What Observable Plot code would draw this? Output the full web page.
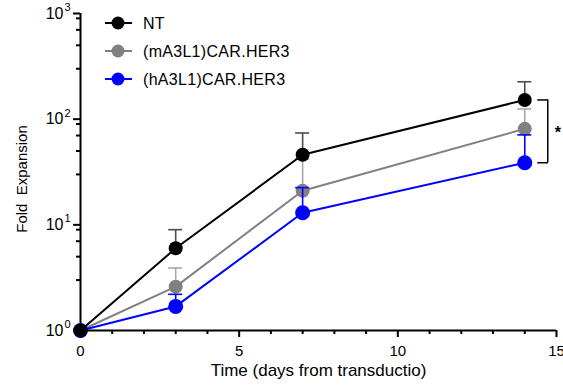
<!DOCTYPE html>
<html>
<head>
<meta charset="utf-8">
<script src="https://cdn.jsdelivr.net/npm/d3@7"></script>
<script src="https://cdn.jsdelivr.net/npm/@observablehq/plot@0.6"></script>
<style>
  body { margin: 0; background: #fff; }
  #chart svg { font-family: "Liberation Sans", Arial, sans-serif; background: #fff; }
</style>
</head>
<body>
<div id="chart"></div>
<script>
// Sampling days and group labels
const days = [0, 3, 7, 14];
const seriesNames = ["NT", "(mA3L1)CAR.HER3", "(hA3L1)CAR.HER3"];
const seriesColors = ["#000000", "#808080", "#0000ff"];
const errorColors = ["#4d4d4d", "#a8a8a8", "#0000ff"];

// Fold expansion: mean and upper end of the error bar (mean + SD)
const ntMean = [1, 6.0, 46, 152];
const ntUpper = [1, 9.0, 74, 226];
const mA3L1Mean = [1, 2.6, 21, 81];
const mA3L1Upper = [1, 3.9, 42, 125];
const hA3L1Mean = [1, 1.69, 13.0, 38.7];
const hA3L1Upper = [1, 2.2, 22.5, 71];

// Axis ticks
const decadeTicks = [1, 10, 100, 1000];
const minorYTicks = [3, 5, 7, 9, 30, 50, 70, 90, 300, 500, 700, 900];
const majorDayTicks = [0, 5, 10, 15];
const minorDayTicks = [1, 2, 3, 4, 6, 7, 8, 9, 11, 12, 13, 14];

const xTitle = "Time (days from transductio)";
const yTitle = "Fold\u00a0\u00a0Expansion";
const significance = "*";

const means = [ntMean, mA3L1Mean, hA3L1Mean];
const uppers = [ntUpper, mA3L1Upper, hA3L1Upper];

function rowsFor(i) {
  return days.map((day, j) => ({ series: seriesNames[i], day, mean: means[i][j], upper: uppers[i][j] }));
}

// gray first, then blue, then black on top
const drawOrder = [1, 2, 0];
const seriesMarks = drawOrder.flatMap(i => {
  const rows = rowsFor(i);
  const bars = rows.filter(d => d.upper > d.mean);
  return [
    Plot.ruleX(bars, { x: "day", y1: "mean", y2: "upper", stroke: errorColors[i], strokeWidth: 1.6 }),
    Plot.ruleY(bars, { y: "upper", x1: "day", x2: "day", insetLeft: -7, insetRight: -7, stroke: errorColors[i], strokeWidth: 1.6 }),
    Plot.line(rows, { x: "day", y: "mean", stroke: seriesColors[i], strokeWidth: 2 }),
    Plot.dot(rows, { x: "day", y: "mean", r: i === 2 ? 7.5 : 7, fill: seriesColors[i], stroke: "none" })
  ];
});

// significance bracket between NT and (hA3L1) on the last day
const lastDay = days[days.length - 1];
const lastIdx = days.length - 1;
const bracketTop = ntMean[lastIdx];
const bracketBottom = hA3L1Mean[lastIdx];

const chart = Plot.plot({
  width: 563,
  height: 385,
  marginLeft: 80,
  marginRight: 7,
  marginTop: 13,
  marginBottom: 55,
  style: { fontFamily: '"Liberation Sans", Arial, sans-serif', color: "#000", background: "#fff" },
  x: { domain: [0, 15] },
  y: { type: "log", domain: [1, 1000] },
  marks: [
    Plot.axisX(majorDayTicks, { tickSize: 7, tickPadding: 8, strokeWidth: 2, fontSize: 15, label: null, tickFormat: d => String(d) }),
    Plot.axisX(minorDayTicks, { tickSize: 4, strokeWidth: 2, label: null, tickFormat: () => "" }),
    Plot.axisY(decadeTicks, { tickSize: 7, strokeWidth: 2, label: null, tickFormat: () => "" }),
    Plot.axisY(minorYTicks, { tickSize: 4, strokeWidth: 2, label: null, tickFormat: () => "" }),
    Plot.ruleX([0], { y1: 1, y2: 1000, strokeWidth: 2 }),
    Plot.ruleY([1], { x1: 0, x2: 15, strokeWidth: 2 }),
    Plot.text(decadeTicks, { x: () => 0, y: d => d, text: () => "10", textAnchor: "end", dx: -17, fontSize: 16 }),
    Plot.text(decadeTicks, { x: () => 0, y: d => d, text: d => String(Math.round(Math.log10(d))), textAnchor: "start", dx: -16, dy: -6, fontSize: 11 }),
    ...seriesMarks,
    Plot.ruleX([lastDay], { y1: () => bracketTop, y2: () => bracketBottom, dx: 23, stroke: "#000", strokeWidth: 1.5 }),
    Plot.ruleY([bracketTop, bracketBottom], { y: d => d, x1: () => lastDay, x2: () => lastDay, insetLeft: 13, insetRight: -23.75, stroke: "#000", strokeWidth: 1.5 }),
    Plot.text([significance], { x: () => lastDay, y: () => Math.sqrt(bracketTop * bracketBottom), text: d => d, dx: 33, dy: 2, fontSize: 16, fontWeight: "bold" }),
    Plot.text([xTitle], { frameAnchor: "bottom", text: d => d, dy: 45, fontSize: 17, letterSpacing: "0.7px" }),
    Plot.text([yTitle], { frameAnchor: "left", textAnchor: "middle", text: d => d, rotate: -90, dx: -58, dy: 7, fontSize: 15 })
  ]
});

// legend in the upper-left of the plot area
const svg = d3.select(chart);
const legend = svg.append("g").attr("text-anchor", "start");
seriesNames.forEach((name, i) => {
  const y = 23 + 28 * i;
  const g = legend.append("g");
  g.append("line").attr("x1", 105).attr("x2", 132).attr("y1", y).attr("y2", y)
    .attr("stroke", seriesColors[i]).attr("stroke-width", 2);
  g.append("circle").attr("cx", 118).attr("cy", y).attr("r", 6.5).attr("fill", seriesColors[i]);
  g.append("text").attr("x", 143).attr("y", y).attr("dy", "0.35em").attr("text-anchor", "start")
    .attr("font-size", 16).attr("letter-spacing", "0.3px").attr("fill", "#000").text(name);
});

document.getElementById("chart").appendChild(chart);
</script>
</body>
</html>
